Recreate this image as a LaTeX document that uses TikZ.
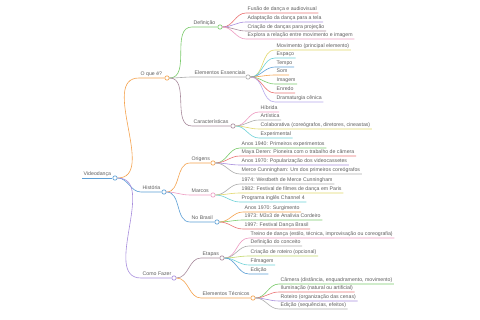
\documentclass[tikz,border=0pt]{standalone}
\usepackage{fontspec}
\setmainfont{Liberation Sans}
\definecolor{txt}{HTML}{5F5F5F}
\definecolor{cblue}{HTML}{5C9FD6}
\definecolor{corange}{HTML}{F5A34F}
\definecolor{cpurple}{HTML}{A88EDD}
\definecolor{cgreen}{HTML}{7CCB6C}
\definecolor{cgray}{HTML}{ADADAD}
\definecolor{cmauve}{HTML}{A88B9C}
\definecolor{cpink}{HTML}{EE9CC2}
\definecolor{cred}{HTML}{EB7575}
\definecolor{cyellow}{HTML}{E2D86A}
\definecolor{ccyan}{HTML}{6ED2D8}
\definecolor{clav}{HTML}{B7A9EC}
\definecolor{cygreen}{HTML}{C2D86A}
\tikzset{
  lbl/.style={anchor=south west, inner xsep=1.5pt, inner ysep=1.1pt,
    text height=3.9pt, text depth=1.1pt,
    font=\fontsize{5.2}{6}\selectfont, text=txt},
  dot/.style={circle, draw, fill=white, inner sep=0pt, minimum size=4.4pt, line width=0.65pt},
  ln/.style={line width=0.6pt}
}
% name, parent circle, colour, x, y, text
\newcommand\mmleaf[6]{%
  \node[lbl] (#1) at (#4,#5) {#6};
  \draw[ln,#3] (#2.east) to[out=0,in=180] (#1.south west) -- (#1.south east);}
% name, parent circle, colour, x, y, circle x, text
\newcommand\mmnode[7]{%
  \node[lbl] (#1) at (#4,#5) {#7};
  \node[dot,draw=#3] (#1c) at (#6,#5) {};
  \draw[ln,#3] (#2.east) to[out=0,in=180] (#1.south west) -- (#1c.west);}
\begin{document}
\begin{tikzpicture}[x=1pt,y=-1pt]
\useasboundingbox[fill=white] (0,0) rectangle (480,320);
% root
\node[lbl] (root) at (82,178) {Videodança};
\node[dot,draw=cblue] (rootc) at (115,178) {};
\draw[ln,cblue] (root.south west) -- (rootc.west);
% O que é?
\mmnode{oq}{rootc}{corange}{139}{78}{167}{O que é?}
\mmnode{def}{oqc}{cgreen}{192}{27}{220}{Definição}
\mmleaf{d1}{defc}{cred}{246}{13}{Fusão de dança e audiovisual}
\mmleaf{d2}{defc}{cpurple}{246}{22}{Adaptação da dança para a tela}
\mmleaf{d3}{defc}{cmauve}{246}{31}{Criação de danças para projeção}
\mmleaf{d4}{defc}{cpink}{246}{39}{Explora a relação entre movimento e imagem}
\mmnode{ee}{oqc}{cgray}{193}{77}{248}{Elementos Essenciais}
\mmleaf{e1}{eec}{cyellow}{275}{50}{Movimento (principal elemento)}
\mmleaf{e2}{eec}{ccyan}{275}{58}{Espaço}
\mmleaf{e3}{eec}{cblue}{275}{67}{Tempo}
\mmleaf{e4}{eec}{corange}{275}{75}{Som}
\mmleaf{e5}{eec}{cgreen}{275}{84}{Imagem}
\mmleaf{e6}{eec}{cred}{275}{93}{Enredo}
\mmleaf{e7}{eec}{clav}{275}{102}{Dramaturgia cênica}
\mmnode{car}{oqc}{cmauve}{192}{126}{233}{Características}
\mmleaf{c1}{carc}{cpink}{259}{112}{Híbrida}
\mmleaf{c2}{carc}{cgray}{259}{120}{Artística}
\mmleaf{c3}{carc}{cyellow}{259}{129}{Colaborativa (coreógrafos, diretores, cineastas)}
\mmleaf{c4}{carc}{ccyan}{259}{138}{Experimental}
% História
\mmnode{his}{rootc}{cblue}{141}{192}{164}{História}
\mmnode{ori}{hisc}{corange}{190}{163}{213}{Origens}
\mmleaf{o1}{oric}{cgreen}{240}{148}{Anos 1940: Primeiros experimentos}
\mmleaf{o2}{oric}{cred}{240}{156}{Maya Deren: Pioneira com o trabalho de câmera}
\mmleaf{o3}{oric}{cpurple}{240}{165}{Anos 1970: Popularização dos videocassetes}
\mmleaf{o4}{oric}{cgray}{240}{174}{Merce Cunningham: Um dos primeiros coreógrafos}
\mmnode{mar}{hisc}{cpink}{190}{195}{213}{Marcos}
\mmleaf{m1}{marc}{cgray}{240}{184}{1974: Westbeth de Merce Cunningham}
\mmleaf{m2}{marc}{cyellow}{240}{193}{1982: Festival de filmes de dança em Paris}
\mmleaf{m3}{marc}{ccyan}{240}{202}{Programa inglês Channel 4}
\mmnode{bra}{hisc}{cblue}{190}{222}{217}{No Brasil}
\mmleaf{b1}{brac}{corange}{243}{212}{Anos 1970: Surgimento}
\mmleaf{b2}{brac}{cgreen}{243}{220}{1973: M3x3 de Analivia Cordeiro}
\mmleaf{b3}{brac}{cred}{243}{229}{1997: Festival Dança Brasil}
% Como Fazer
\mmnode{com}{rootc}{cpurple}{141}{278}{174}{Como Fazer}
\mmnode{eta}{comc}{cmauve}{201}{258}{222}{Etapas}
\mmleaf{t1}{etac}{cpink}{249}{238}{Treino de dança (estilo, técnica, improvisação ou coreografia)}
\mmleaf{t2}{etac}{cgray}{249}{246}{Definição do conceito}
\mmleaf{t3}{etac}{cygreen}{249}{256}{Criação de roteiro (opcional)}
\mmleaf{t4}{etac}{ccyan}{249}{265}{Filmagem}
\mmleaf{t5}{etac}{cblue}{249}{274}{Edição}
\mmnode{et}{comc}{corange}{201}{298}{253}{Elementos Técnicos}
\mmleaf{k1}{etc}{cgreen}{279}{284}{Câmera (distância, enquadramento, movimento)}
\mmleaf{k2}{etc}{cred}{279}{292}{Iluminação (natural ou artificial)}
\mmleaf{k3}{etc}{cpurple}{279}{301}{Roteiro (organização das cenas)}
\mmleaf{k4}{etc}{cgray}{279}{309}{Edição (sequências, efeitos)}
\end{tikzpicture}
\end{document}
